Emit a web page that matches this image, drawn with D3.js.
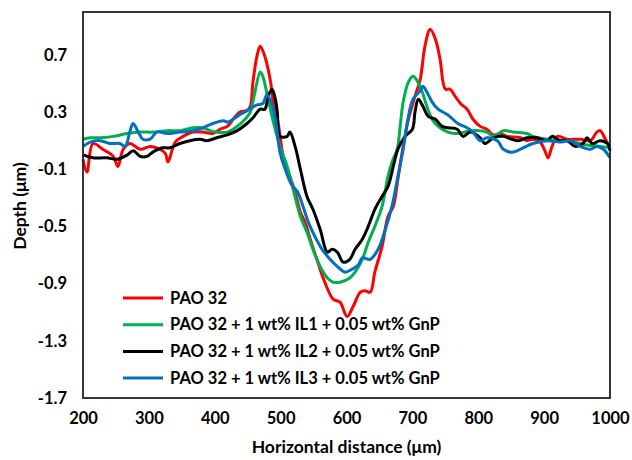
<!DOCTYPE html>
<html>
<head>
<meta charset="utf-8">
<title>Depth profiles</title>
<script src="https://cdn.jsdelivr.net/npm/d3@7"></script>
<style>
  body { margin: 0; background: #fff; }
  svg text { font-family: Lato, "Open Sans", sans-serif; font-weight: bold; fill: #000; }
</style>
</head>
<body>
<svg id="chart" width="632" height="460"></svg>
<script>
// series names and colours (legend order)
var seriesNames = ['PAO 32',
  'PAO 32 + 1 wt% IL1 + 0.05 wt% GnP',
  'PAO 32 + 1 wt% IL2 + 0.05 wt% GnP',
  'PAO 32 + 1 wt% IL3 + 0.05 wt% GnP'];
var seriesColors = ['#ff0000', '#00b050', '#000000', '#0070c0'];

// [horizontal distance (um), depth (um)]
var pao32 = [[200,-0.03],[206,-0.12],[215,0.08],[230,0.04],[246,-0.01],[253,-0.08],[261,0.04],[271,0.08],[287,0.04],[302,0.06],[317,0.04],[325,0.01],[329,-0.05],[340,0.09],[352,0.13],[367,0.16],[382,0.16],[397,0.15],[408,0.18],[419,0.20],[428,0.25],[438,0.30],[449,0.31],[454,0.34],[458,0.51],[464,0.69],[469,0.76],[476,0.69],[484,0.53],[489,0.37],[496,0.23],[504,-0.01],[514,-0.15],[522,-0.26],[530,-0.40],[537,-0.47],[545,-0.59],[555,-0.73],[567,-0.89],[580,-1.01],[590,-1.03],[601,-1.13],[610,-1.06],[621,-0.96],[628,-0.95],[636,-0.96],[643,-0.82],[654,-0.64],[663,-0.43],[671,-0.36],[678,-0.17],[686,0.06],[694,0.25],[704,0.41],[712,0.53],[719,0.76],[727,0.88],[735,0.81],[742,0.67],[750,0.46],[757,0.46],[765,0.41],[773,0.36],[783,0.32],[792,0.25],[803,0.20],[813,0.18],[823,0.14],[833,0.15],[844,0.13],[864,0.12],[874,0.10],[883,0.11],[894,0.09],[902,0.02],[906,-0.02],[912,0.06],[920,0.13],[935,0.11],[955,0.11],[970,0.10],[980,0.16],[985,0.17],[993,0.11],[1000,0.05]];

var il1 = [[200,0.11],[211,0.12],[226,0.12],[246,0.13],[267,0.15],[287,0.16],[306,0.16],[328,0.17],[347,0.17],[367,0.19],[382,0.19],[393,0.17],[403,0.16],[419,0.16],[434,0.20],[446,0.25],[454,0.30],[461,0.44],[469,0.58],[473,0.55],[481,0.39],[489,0.23],[499,0.06],[510,-0.08],[519,-0.24],[530,-0.43],[540,-0.54],[549,-0.66],[560,-0.78],[571,-0.86],[580,-0.89],[590,-0.89],[605,-0.86],[613,-0.82],[624,-0.73],[633,-0.61],[643,-0.50],[654,-0.36],[663,-0.15],[669,-0.05],[677,0.04],[681,0.18],[686,0.37],[694,0.51],[701,0.55],[707,0.52],[715,0.44],[722,0.34],[730,0.25],[739,0.20],[754,0.16],[769,0.15],[780,0.16],[792,0.17],[813,0.16],[823,0.13],[838,0.17],[853,0.16],[874,0.15],[883,0.13],[905,0.11],[924,0.10],[944,0.09],[965,0.07],[985,0.06],[1000,0.05]];

var il2 = [[200,0.00],[215,-0.02],[236,-0.02],[252,-0.03],[267,0.00],[276,0.03],[287,-0.01],[297,-0.01],[306,0.02],[321,0.05],[332,0.05],[347,0.08],[362,0.10],[378,0.11],[388,0.10],[403,0.12],[419,0.14],[434,0.17],[449,0.22],[458,0.26],[469,0.32],[476,0.32],[481,0.41],[487,0.46],[492,0.39],[495,0.30],[499,0.13],[510,0.13],[514,0.16],[522,0.06],[530,-0.10],[540,-0.29],[549,-0.38],[560,-0.52],[571,-0.68],[578,-0.66],[586,-0.68],[595,-0.75],[605,-0.73],[613,-0.66],[624,-0.59],[633,-0.50],[643,-0.38],[654,-0.29],[663,-0.22],[671,-0.08],[678,0.04],[689,0.13],[700,0.18],[704,0.30],[709,0.39],[716,0.34],[724,0.27],[735,0.25],[745,0.20],[754,0.19],[768,0.18],[777,0.13],[788,0.16],[803,0.12],[810,0.08],[823,0.12],[838,0.13],[851,0.11],[861,0.10],[874,0.12],[889,0.12],[905,0.10],[912,0.13],[924,0.10],[935,0.10],[947,0.06],[959,0.08],[965,0.12],[973,0.08],[985,0.10],[996,0.08],[1000,0.03]];

var il3 = [[200,0.06],[211,0.09],[226,0.10],[241,0.08],[256,0.08],[264,0.06],[271,0.16],[276,0.22],[284,0.16],[291,0.11],[302,0.11],[312,0.16],[328,0.15],[347,0.16],[367,0.17],[382,0.19],[397,0.22],[413,0.24],[420,0.23],[434,0.27],[449,0.31],[464,0.35],[473,0.36],[479,0.42],[484,0.39],[492,0.25],[499,0.02],[507,-0.10],[517,-0.21],[526,-0.26],[534,-0.36],[542,-0.47],[552,-0.57],[563,-0.66],[575,-0.73],[586,-0.78],[598,-0.82],[608,-0.80],[618,-0.77],[624,-0.72],[636,-0.73],[648,-0.66],[659,-0.52],[669,-0.36],[678,-0.15],[686,0.04],[694,0.27],[701,0.39],[712,0.45],[716,0.48],[722,0.44],[730,0.37],[739,0.32],[754,0.28],[769,0.22],[783,0.19],[792,0.16],[803,0.10],[813,0.12],[829,0.10],[838,0.04],[853,0.02],[868,0.05],[883,0.08],[905,0.10],[924,0.09],[940,0.10],[955,0.06],[970,0.04],[980,0.06],[990,0.04],[1000,-0.02]];

var xTicks = [200, 300, 400, 500, 600, 700, 800, 900, 1000];
var yTicks = [-1.7, -1.3, -0.9, -0.5, -0.1, 0.3, 0.7];

var allSeries = [pao32, il1, il2, il3];

var svg = d3.select('#chart');
var margin = { left: 83, right: 22, top: 12, bottom: 62 };
var width = 632 - margin.left - margin.right;
var height = 460 - margin.top - margin.bottom;

var x = d3.scaleLinear().domain([200, 1000]).range([0, width]);
var y = d3.scaleLinear().domain([-1.7, 1.0]).range([height, 0]);

// plain hyphen for negatives, like the original
var fmt = d3.formatLocale({ decimal: '.', thousands: '', grouping: [3], currency: ['', ''], minus: '-' });

var g = svg.append('g').attr('transform', 'translate(' + margin.left + ',' + margin.top + ')');

// axes (labels only, no tick marks)
var xAxis = g.append('g')
  .attr('transform', 'translate(0,' + height + ')')
  .call(d3.axisBottom(x).tickValues(xTicks).tickSize(0).tickPadding(14).tickFormat(fmt.format('d')));
var yAxis = g.append('g')
  .call(d3.axisLeft(y).tickValues(yTicks).tickSize(0).tickPadding(16).tickFormat(fmt.format('.1f')));
[xAxis, yAxis].forEach(function(a) {
  a.select('.domain').remove();
  a.selectAll('text').style('font-size', '16.5px').style('font-family', 'Lato, sans-serif').style('font-weight', 'bold');
});

// curves
var line = d3.line()
  .x(function(d) { return x(d[0]); })
  .y(function(d) { return y(d[1]); })
  .curve(d3.curveCatmullRom.alpha(0.5));

g.selectAll('path.series')
  .data(allSeries)
  .enter()
  .append('path')
  .attr('class', 'series')
  .attr('d', line)
  .attr('fill', 'none')
  .attr('stroke', function(d, i) { return seriesColors[i]; })
  .attr('stroke-width', 3)
  .attr('stroke-linejoin', 'round');

// plot frame
g.append('rect')
  .attr('width', width)
  .attr('height', height)
  .attr('fill', 'none')
  .attr('stroke', '#222')
  .attr('stroke-width', 1.8);

// axis titles
svg.append('text')
  .attr('x', margin.left + width / 2)
  .attr('y', 453)
  .attr('text-anchor', 'middle')
  .style('font-size', '17.5px')
  .text('Horizontal distance (\u03bcm)');

svg.append('text')
  .attr('transform', 'translate(26,206) rotate(-90)')
  .attr('text-anchor', 'middle')
  .style('font-size', '17.5px')
  .text('Depth (\u03bcm)');

// legend
var legend = svg.append('g').attr('transform', 'translate(123,298)');
var rows = legend.selectAll('g')
  .data(seriesNames)
  .enter()
  .append('g')
  .attr('transform', function(d, i) { return 'translate(0,' + (i * 26.7) + ')'; });
rows.append('line')
  .attr('x1', 0).attr('x2', 40)
  .attr('stroke', function(d, i) { return seriesColors[i]; })
  .attr('stroke-width', 3);
rows.append('text')
  .attr('x', 47)
  .attr('dy', '0.35em')
  .style('font-size', '16.5px')
  .text(function(d) { return d; });
</script>
</body>
</html>
